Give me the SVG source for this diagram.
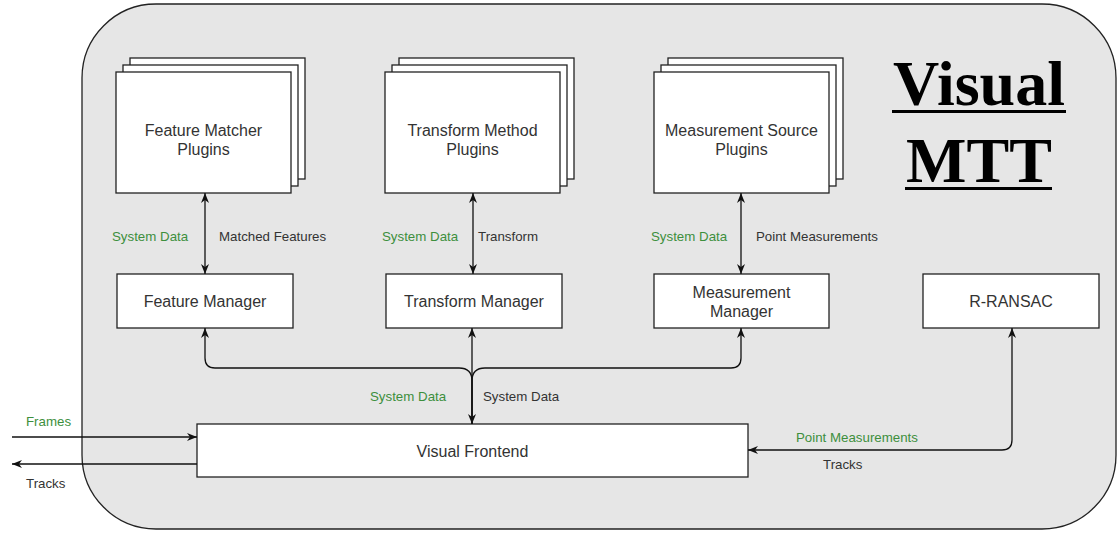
<svg xmlns="http://www.w3.org/2000/svg" width="1118" height="533" viewBox="0 0 1118 533">
<style>
.box{fill:#fff;stroke:#222;stroke-width:1.3}
.lbl{font-family:"Liberation Sans",Arial,sans-serif;font-size:16px;fill:#333;text-anchor:middle}
.el{font-family:"Liberation Sans",Arial,sans-serif;font-size:13.3px;fill:#333}
.g{fill:#3d8f3d}
.c{fill:none;stroke:#111;stroke-width:1.3}
.title{font-family:"Liberation Serif","Times New Roman",serif;font-weight:bold;font-size:64px;fill:#000;text-anchor:middle}
</style>
<defs>
<marker id="ah" viewBox="0 0 10 10" refX="10" refY="5" markerWidth="10" markerHeight="10" markerUnits="userSpaceOnUse" orient="auto-start-reverse">
<path d="M0,1 L10,5 L0,9 L3,5 z" fill="#111"/>
</marker>
</defs>
<rect id="container" x="82" y="4" width="1034" height="525" rx="74" ry="74" fill="#e6e6e6" stroke="#222" stroke-width="1.3"/>
<g id="title">
<text class="title" x="979" y="105">Visual</text>
<rect x="892" y="110" width="174" height="3" fill="#000"/>
<text class="title" x="979" y="182">MTT</text>
<rect x="905" y="187" width="147" height="3" fill="#000"/>
</g>
<g id="feature-matcher-plugins">
<rect class="box" x="130" y="58" width="175" height="121"/>
<rect class="box" x="123" y="65" width="175" height="121"/>
<rect class="box" x="116" y="72" width="175" height="121"/>
<text class="lbl" x="203.5" y="136">Feature Matcher</text>
<text class="lbl" x="203.5" y="155">Plugins</text>
</g>
<g id="transform-method-plugins">
<rect class="box" x="399" y="58" width="175" height="121"/>
<rect class="box" x="392" y="65" width="175" height="121"/>
<rect class="box" x="385" y="72" width="175" height="121"/>
<text class="lbl" x="472.5" y="136">Transform Method</text>
<text class="lbl" x="472.5" y="155">Plugins</text>
</g>
<g id="measurement-source-plugins">
<rect class="box" x="668" y="58" width="175" height="121"/>
<rect class="box" x="661" y="65" width="175" height="121"/>
<rect class="box" x="654" y="72" width="175" height="121"/>
<text class="lbl" x="741.5" y="136">Measurement Source</text>
<text class="lbl" x="741.5" y="155">Plugins</text>
</g>
<g id="feature-manager">
<rect class="box" x="117" y="274" width="176" height="54"/>
<text class="lbl" x="205" y="307">Feature Manager</text>
</g>
<g id="transform-manager">
<rect class="box" x="386" y="274" width="176" height="54"/>
<text class="lbl" x="474" y="307">Transform Manager</text>
</g>
<g id="measurement-manager">
<rect class="box" x="654" y="274" width="175" height="54"/>
<text class="lbl" x="741.5" y="298">Measurement</text>
<text class="lbl" x="741.5" y="317">Manager</text>
</g>
<g id="r-ransac">
<rect class="box" x="923" y="274" width="176" height="54"/>
<text class="lbl" x="1011" y="307">R-RANSAC</text>
</g>
<g id="visual-frontend">
<rect class="box" x="197" y="424" width="551" height="53"/>
<text class="lbl" x="472.5" y="457">Visual Frontend</text>
</g>
<g id="connectors">
<line class="c" x1="205" y1="193" x2="205" y2="274" marker-start="url(#ah)" marker-end="url(#ah)"/>
<line class="c" x1="473" y1="193" x2="473" y2="274" marker-start="url(#ah)" marker-end="url(#ah)"/>
<line class="c" x1="741" y1="193" x2="741" y2="274" marker-start="url(#ah)" marker-end="url(#ah)"/>
<line class="c" x1="472" y1="328" x2="472" y2="424" marker-start="url(#ah)" marker-end="url(#ah)"/>
<path class="c" d="M472,424 L472,381 Q472,368 459,368 L215,368 Q205,368 205,358 L205,328" marker-end="url(#ah)"/>
<path class="c" d="M472,424 L472,381 Q472,368 485,368 L731,368 Q741,368 741,358 L741,328" marker-end="url(#ah)"/>
<path class="c" d="M748,450 L1002,450 Q1012,450 1012,440 L1012,328" marker-start="url(#ah)" marker-end="url(#ah)"/>
<line class="c" x1="12" y1="437" x2="197" y2="437" marker-end="url(#ah)"/>
<line class="c" x1="197" y1="464" x2="12" y2="464" marker-end="url(#ah)"/>
</g>
<g id="edge-labels">
<text class="el g" x="112" y="241">System Data</text>
<text class="el" x="219" y="241">Matched Features</text>
<text class="el g" x="382" y="241">System Data</text>
<text class="el" x="478" y="241">Transform</text>
<text class="el g" x="651" y="241">System Data</text>
<text class="el" x="756" y="241">Point Measurements</text>
<text class="el g" x="370" y="401">System Data</text>
<text class="el" x="483" y="401">System Data</text>
<text class="el g" x="796" y="442">Point Measurements</text>
<text class="el" x="823" y="469">Tracks</text>
<text class="el g" x="26" y="426">Frames</text>
<text class="el" x="26" y="488">Tracks</text>
</g>
</svg>
